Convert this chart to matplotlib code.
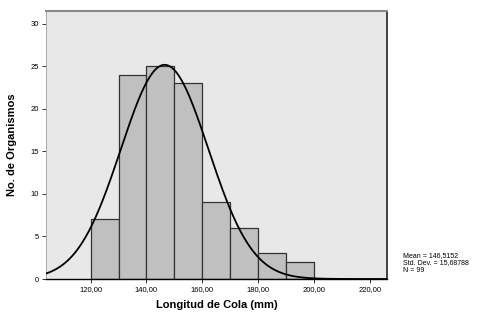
import numpy as np
import matplotlib.pyplot as plt

# histogram data
bin_edges = [120, 130, 140, 150, 160, 170, 180, 190, 200]
counts = [7, 24, 25, 23, 9, 6, 3, 2]
mean = 146.5152
std = 15.68788
n = 99
xticks = [120, 140, 160, 180, 200, 220]
xtick_labels = ['120,00', '140,00', '160,00', '180,00', '200,00', '220,00']
yticks = [0, 5, 10, 15, 20, 25, 30]

plt.rcParams['font.family'] = ['Liberation Sans', 'DejaVu Sans']

fig = plt.figure(figsize=(4.85, 3.14), dpi=100)
ax = fig.add_axes([46/485, 1 - 279/314, (387-46)/485, (279-11)/314])
ax.set_facecolor('#e8e8e8')

widths = np.diff(bin_edges)
ax.bar(bin_edges[:-1], counts, width=widths, align='edge',
       color='#c0c0c0', edgecolor='#333333', linewidth=0.9, zorder=2)

# normal curve
xs = np.linspace(104, 226, 400)
ys = n * 10 / (std * np.sqrt(2 * np.pi)) * np.exp(-0.5 * ((xs - mean) / std) ** 2)
ax.plot(xs, ys, color='black', linewidth=1.3, zorder=3)

ax.set_xlim(104, 226.2)
ax.set_ylim(0, 31.5)
ax.set_xticks(xticks)
ax.set_xticklabels(xtick_labels)
ax.set_yticks(yticks)
ax.tick_params(axis='both', labelsize=5.5, length=3, width=0.7, color='#333333', pad=2)

ax.spines['top'].set_color('#888888')
ax.spines['top'].set_linewidth(1.5)
ax.spines['right'].set_color('#333333')
ax.spines['right'].set_linewidth(1.3)
ax.spines['left'].set_color('#aaaaaa')
ax.spines['left'].set_linewidth(0.7)
ax.spines['bottom'].set_color('black')
ax.spines['bottom'].set_linewidth(1.0)

ax.set_xlabel('Longitud de Cola (mm)', fontsize=8, fontweight='bold', labelpad=5)
ax.set_ylabel('No. de Organismos', fontsize=8, fontweight='bold', labelpad=10)

fig.text(403/485, 1 - 252/314,
         'Mean = 146,5152\nStd. Dev. = 15,68788\nN = 99',
         fontsize=5, va='top', ha='left', linespacing=1.1)

fig.savefig('out.png', dpi=100)
